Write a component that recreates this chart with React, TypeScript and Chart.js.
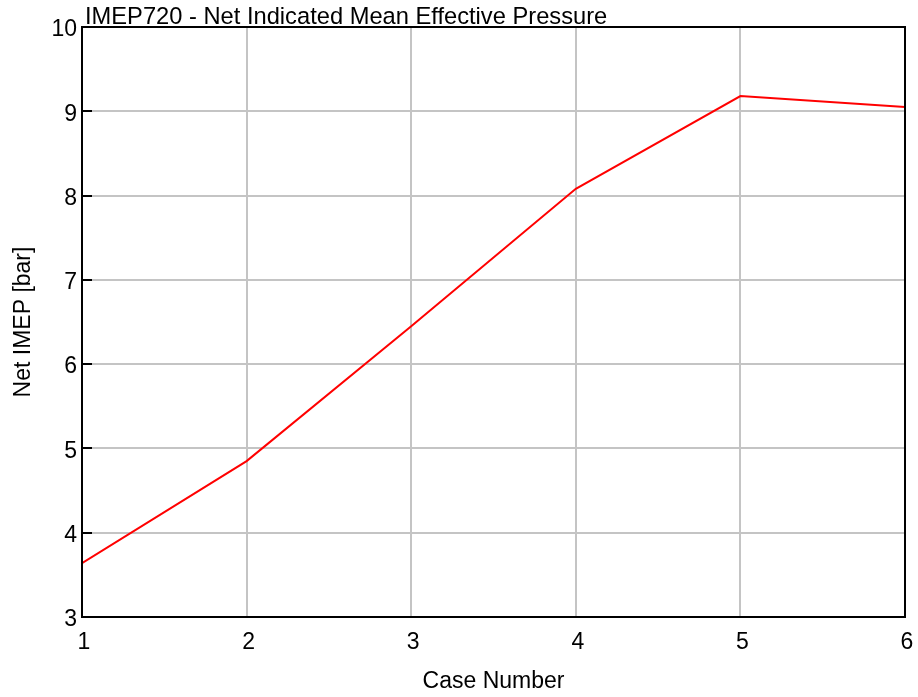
import React, { useEffect, useRef } from "react";
import { Chart, registerables } from "chart.js";

Chart.register(...registerables);

const caseNumbers = [1, 2, 3, 4, 5, 6];
const netImep = [3.64, 4.85, 6.45, 8.08, 9.18, 9.05];
const titleText = "IMEP720 - Net Indicated Mean Effective Pressure";
const xTitle = "Case Number";
const yTitle = "Net IMEP [bar]";
const yMin = 3;
const yMax = 10;

const FONT = "'Liberation Sans', Arial, sans-serif";

const framePlugin = {
  id: "frame",
  afterDraw(chart: any) {
    const { ctx, chartArea } = chart;
    const { left, top, right, bottom } = chartArea;
    const yScale = chart.scales.y;
    ctx.save();
    ctx.strokeStyle = "#000";
    ctx.lineWidth = 2;
    yScale.ticks.forEach((t: any) => {
      const py = Math.round(yScale.getPixelForValue(t.value));
      ctx.beginPath();
      ctx.moveTo(left, py);
      ctx.lineTo(left + 10, py);
      ctx.stroke();
    });
    ctx.strokeRect(left, top, right - left, bottom - top);
    ctx.fillStyle = "#000";
    ctx.font = `23.7px ${FONT}`;
    ctx.textAlign = "left";
    ctx.textBaseline = "alphabetic";
    ctx.fillText(titleText, left + 3, top - 3);
    ctx.restore();
  },
};

export default function App() {
  const ref = useRef<HTMLCanvasElement>(null);
  useEffect(() => {
    if (!ref.current) return;
    const chart = new Chart(ref.current, {
      type: "line",
      data: {
        datasets: [
          {
            data: caseNumbers.map((c, i) => ({ x: c, y: netImep[i] })),
            borderColor: "#ff0000",
            borderWidth: 2,
            pointRadius: 0,
            tension: 0,
            fill: false,
          },
        ],
      },
      options: {
        animation: false,
        responsive: false,
        maintainAspectRatio: false,
        layout: { padding: { top: 27, right: 13, left: 0, bottom: 0 } },
        plugins: {
          legend: { display: false },
          title: { display: false },
          tooltip: { enabled: false },
        },
        scales: {
          x: {
            type: "linear",
            min: 1,
            max: 6,
            afterFit: (s: any) => {
              s.height = 80;
              s.paddingLeft = 0;
              s.paddingRight = 0;
            },
            ticks: {
              stepSize: 1,
              color: "#000",
              font: { family: FONT, size: 23 },
              padding: 12,
              labelOffset: 2,
              maxRotation: 0,
            },
            grid: { color: "#c4c4c4", lineWidth: 2, drawTicks: false },
            border: { display: false },
            title: {
              display: true,
              text: xTitle,
              color: "#000",
              font: { family: FONT, size: 23 },
              padding: { top: 0, bottom: 2 },
            },
          },
          y: {
            min: yMin,
            max: yMax,
            afterFit: (s: any) => {
              s.width = 82;
              s.paddingTop = 0;
              s.paddingBottom = 0;
            },
            ticks: {
              stepSize: 1,
              color: "#000",
              font: { family: FONT, size: 23 },
              padding: 5,
              labelOffset: 3,
            },
            grid: { color: "#c4c4c4", lineWidth: 2, drawTicks: false },
            border: { display: false },
            title: {
              display: true,
              text: yTitle,
              color: "#000",
              font: { family: FONT, size: 23 },
              padding: { top: 10, bottom: 0 },
            },
          },
        },
      },
      plugins: [framePlugin],
    } as any);
    return () => chart.destroy();
  }, []);
  return (
    <div style={{ position: "fixed", left: 0, top: 0, width: 918, height: 697, background: "#fff" }}>
      <canvas ref={ref} width={918} height={697} style={{ width: 918, height: 697 }} />
    </div>
  );
}
